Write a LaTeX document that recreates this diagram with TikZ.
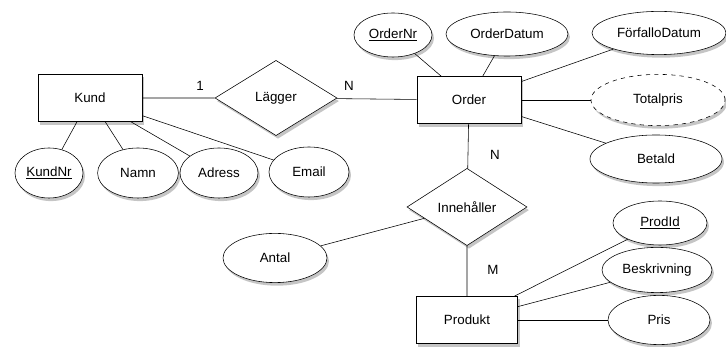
\documentclass[tikz,border=0pt]{standalone}
\usepackage{fontspec}
\setmainfont{Liberation Sans}
\usepackage{tikz}
\usetikzlibrary{shapes.geometric,shadows}

\begin{document}
\begin{tikzpicture}[x=0.025cm,y=0.025cm,
    every node/.style={font=\fontsize{9.5}{11}\selectfont},
    shadowed/.style={drop shadow={fill=black!45,opacity=0.5,shadow xshift=1.4pt,shadow yshift=-2.2pt}},
    entity/.style={draw,fill=white,shadowed,rectangle,minimum width=2.6cm,minimum height=1.18cm},
    relation/.style={draw,fill=white,shadowed,diamond,inner sep=0pt},
    attrib/.style={draw,fill=white,shadowed,ellipse,inner sep=0pt},
    card/.style={inner sep=0pt}]

    \useasboundingbox (0,0) rectangle (726,347);

    % Entiteter
    \node[entity] (kund) at (90,249) {Kund};
    \node[entity] (order) at (469,247) {Order};
    \node[entity,minimum width=2.53cm] (produkt) at (467,27) {Produkt};

    % Relationer
    \node[relation,minimum width=3.05cm,minimum height=1.88cm] (lagger) at (276,249) {Lägger};
    \node[relation,minimum width=3.0cm,minimum height=1.93cm] (innehaller) at (467,140) {Innehåller};

    % Attribut till Kund
    \node[attrib,minimum width=1.7cm,minimum height=1.25cm] (kundnr) at (49,174) {\underline{KundNr}};
    \node[attrib,minimum width=2.02cm,minimum height=1.25cm] (namn) at (138,174) {Namn};
    \node[attrib,minimum width=1.95cm,minimum height=1.25cm] (adress) at (219,174) {Adress};
    \node[attrib,minimum width=2.0cm,minimum height=1.25cm] (email) at (309,175) {Email};

    % Attribut till Order
    \node[attrib,minimum width=1.95cm,minimum height=1.1cm] (ordernr) at (393,312) {\underline{OrderNr}};
    \node[attrib,minimum width=3.05cm,minimum height=1.1cm] (orderdatum) at (507,313) {OrderDatum};
    \node[attrib,minimum width=3.35cm,minimum height=1.08cm] (forfallo) at (659,314) {FörfalloDatum};
    \node[attrib,dashed,minimum width=3.35cm,minimum height=1.28cm] (totalpris) at (658,247) {Totalpris};
    \node[attrib,minimum width=3.3cm,minimum height=1.2cm] (betald) at (656,188) {Betald};

    % Attribut till Innehaller och Produkt
    \node[attrib,minimum width=2.6cm,minimum height=1.23cm] (antal) at (275,89) {Antal};
    \node[attrib,minimum width=2.35cm,minimum height=1.1cm] (prodid) at (660,124) {\underline{ProdId}};
    \node[attrib,minimum width=2.75cm,minimum height=1.13cm] (beskrivning) at (657,77) {Beskrivning};
    \node[attrib,minimum width=2.55cm,minimum height=1.23cm] (pris) at (659,27) {Pris};

    % Linjer
    \draw (kund) -- (lagger) -- (order);
    \draw (order) -- (innehaller) -- (produkt);
    \draw (kund) -- (kundnr);
    \draw (kund) -- (namn);
    \draw (kund) -- (adress);
    \draw (kund) -- (email);
    \draw (order) -- (ordernr);
    \draw (order) -- (orderdatum);
    \draw (order) -- (forfallo);
    \draw (order) -- (totalpris);
    \draw (order) -- (betald);
    \draw (innehaller) -- (antal);
    \draw (produkt) -- (prodid);
    \draw (produkt) -- (beskrivning);
    \draw (produkt) -- (pris);

    % Kardinaliteter
    \node[card] (c1) at (200,261) {1};
    \node[card] (cn1) at (349,261) {N};
    \node[card] (cn2) at (495,192) {N};
    \node[card] (cm) at (493,77) {M};

\end{tikzpicture}
\end{document}
